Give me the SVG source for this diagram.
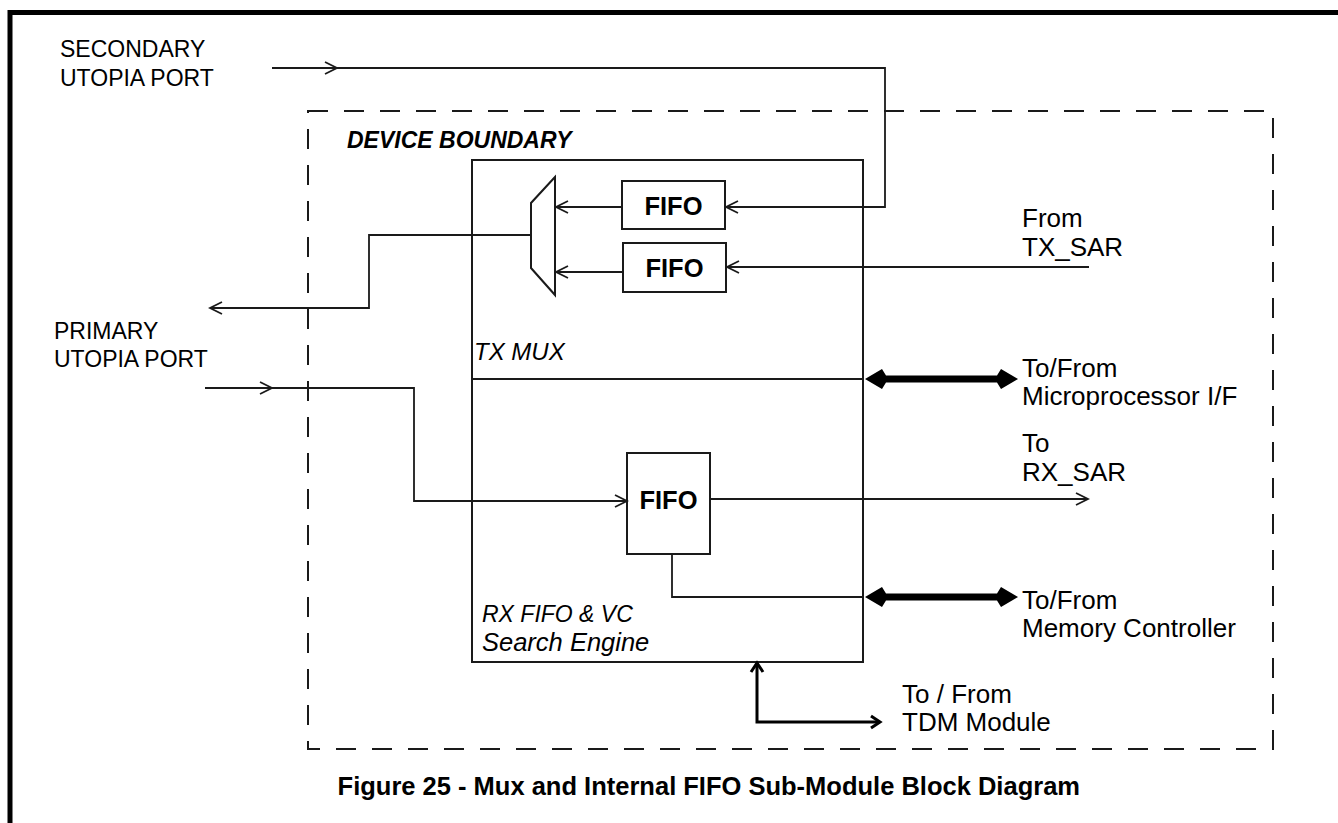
<svg xmlns="http://www.w3.org/2000/svg" width="1338" height="823" viewBox="0 0 1338 823">
<style>
.ln{fill:none;stroke:#1a1a1a;stroke-width:1.8}
.box{fill:#fff;stroke:#1a1a1a;stroke-width:2}
.t{font-family:"Liberation Sans",Arial,sans-serif;fill:#000}
.lbl{font-size:23px}
.rl{font-size:26px}
.fifo{font-size:25.5px;font-weight:bold;text-anchor:middle}
.it{font-style:italic}
.bus{fill:#000;stroke:none}
</style>
<defs>
<marker id="ch" markerUnits="userSpaceOnUse" markerWidth="16" markerHeight="16" viewBox="0 0 16 16" refX="14" refY="8" orient="auto-start-reverse">
<path d="M2,2 L14,8 L2,14" fill="none" stroke="#1a1a1a" stroke-width="1.8"/>
</marker>
<marker id="chb" markerUnits="userSpaceOnUse" markerWidth="16" markerHeight="16" viewBox="0 0 16 16" refX="13" refY="8" orient="auto-start-reverse">
<path d="M4,2 L13,8 L4,14" fill="none" stroke="#000" stroke-width="3"/>
</marker>
</defs>
<rect width="1338" height="823" fill="#fff"/>
<g id="frame">
<line x1="8" y1="12.5" x2="1338" y2="12.5" stroke="#000" stroke-width="5"/>
<line x1="10" y1="10" x2="10" y2="823" stroke="#000" stroke-width="5"/>
</g>
<g id="device-boundary">
<rect x="308" y="111" width="965" height="638" fill="none" stroke="#1a1a1a" stroke-width="2" stroke-dasharray="20 16"/>
<text class="t" x="347" y="148" font-size="23" font-weight="bold" font-style="italic">DEVICE BOUNDARY</text>
</g>
<g id="module-box">
<rect class="box" x="472" y="160" width="391" height="502"/>
<line class="ln" x1="472" y1="379" x2="863" y2="379"/>
<text class="t it" x="474" y="360" font-size="24">TX MUX</text>
<text class="t it" x="482" y="622" font-size="23">RX FIFO &amp; VC</text>
<text class="t it" x="482" y="651" font-size="25.5">Search Engine</text>
</g>
<g id="mux">
<polygon class="box" points="555,177 531,203 531,268 555,295"/>
</g>
<g id="fifo-tx1">
<rect class="box" x="622" y="181" width="103" height="48"/>
<text class="t fifo" x="673.5" y="215">FIFO</text>
</g>
<g id="fifo-tx2">
<rect class="box" x="623" y="243" width="103" height="49"/>
<text class="t fifo" x="674.5" y="277">FIFO</text>
</g>
<g id="fifo-rx">
<rect class="box" x="627" y="453" width="83" height="101"/>
<text class="t fifo" x="668.5" y="509">FIFO</text>
</g>
<g id="connectors">
<path class="ln" d="M272,68 L337,68" marker-end="url(#ch)"/>
<path class="ln" d="M335,68 L885,68 L885,207 L726,207" marker-end="url(#ch)"/>
<path class="ln" d="M1089,267 L727,267" marker-end="url(#ch)"/>
<path class="ln" d="M622,207 L556,207" marker-end="url(#ch)"/>
<path class="ln" d="M623,272 L556,272" marker-end="url(#ch)"/>
<path class="ln" d="M531,235 L369,235 L369,308 L210,308" marker-end="url(#ch)"/>
<path class="ln" d="M205,388 L272,388" marker-end="url(#ch)"/>
<path class="ln" d="M270,388 L414,388 L414,501 L627,501" marker-end="url(#ch)"/>
<path class="ln" d="M710,499 L1088,499" marker-end="url(#ch)"/>
<path class="ln" d="M672,554 L672,597 L863,597"/>
<path class="bus" d="M865,379 L882,369 L886,375.5 L997,375.5 L1001,369 L1018,379 L1001,389 L997,382.5 L886,382.5 L882,389 Z"/>
<path class="bus" d="M865,597 L882,587 L886,593.5 L997,593.5 L1001,587 L1018,597 L1001,607 L997,600.5 L886,600.5 L882,607 Z"/>
<path d="M757,663 L757,722 L880,722" fill="none" stroke="#000" stroke-width="3" marker-start="url(#chb)" marker-end="url(#chb)"/>
</g>
<g id="labels">
<text class="t lbl" x="60" y="57">SECONDARY</text>
<text class="t lbl" x="60" y="86">UTOPIA PORT</text>
<text class="t lbl" x="54" y="339">PRIMARY</text>
<text class="t lbl" x="54" y="367">UTOPIA PORT</text>
<text class="t rl" x="1022" y="227">From</text>
<text class="t rl" x="1022" y="256">TX_SAR</text>
<text class="t rl" x="1022" y="377">To/From</text>
<text class="t rl" x="1022" y="405">Microprocessor I/F</text>
<text class="t rl" x="1022" y="452">To</text>
<text class="t rl" x="1022" y="481">RX_SAR</text>
<text class="t rl" x="1022" y="609">To/From</text>
<text class="t rl" x="1022" y="637">Memory Controller</text>
<text class="t rl" x="902" y="703">To / From</text>
<text class="t rl" x="902" y="731">TDM Module</text>
</g>
<g id="caption">
<text class="t" x="1080" y="795" font-size="25.5" font-weight="bold" text-anchor="end">Figure 25 - Mux and Internal FIFO Sub-Module Block Diagram</text>
</g>
</svg>
